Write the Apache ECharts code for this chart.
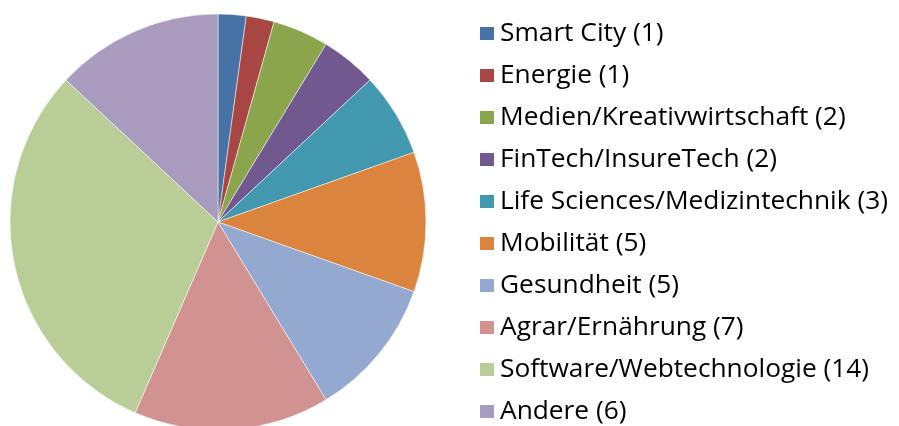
<!DOCTYPE html>
<html>
<head>
<meta charset="utf-8">
<script src="https://cdn.jsdelivr.net/npm/echarts@6/dist/echarts.min.js"></script>
<style>
  html, body { margin: 0; padding: 0; background: #fff; }
  #chart { width: 899px; height: 426px; }
</style>
</head>
<body>
<div id="chart"></div>
<script>
// Kategorien und Anzahl
const categories = [
  'Smart City', 'Energie', 'Medien/Kreativwirtschaft', 'FinTech/InsureTech',
  'Life Sciences/Medizintechnik', 'Mobilität', 'Gesundheit', 'Agrar/Ernährung',
  'Software/Webtechnologie', 'Andere'
]
const counts = [1, 1, 2, 2, 3, 5, 5, 7, 14, 6]
const colors = [
  '#4672A6', '#A84644', '#8AA54B', '#71588F', '#4298AF',
  '#DB843D', '#93A9CF', '#D19392', '#B9CD96', '#A99BBD'
]

const chart = echarts.init(document.getElementById('chart'))
const option = {
  animation: false,
  color: colors,
  legend: {
    orient: 'vertical',
    left: 478,
    top: 20,
    padding: 0,
    itemWidth: 16,
    itemHeight: 15,
    itemGap: 15,
    icon: 'rect',
    data: categories,
    formatter: function (name) {
      return name + ' (' + counts[categories.indexOf(name)] + ')'
    },
    textStyle: {
      fontFamily: 'Open Sans',
      fontSize: 26.3,
      lineHeight: 27,
      color: '#000'
    }
  },
  series: [{
    type: 'pie',
    center: [218, 222],
    radius: 208,
    startAngle: 90,
    clockwise: true,
    label: { show: false },
    labelLine: { show: false },
    itemStyle: { borderColor: '#fff', borderWidth: 0.5 },
    emphasis: { disabled: true },
    data: categories.map(function (c, i) {
      return { name: c, value: counts[i] }
    })
  }]
}
chart.setOption(option)
window.addEventListener('resize', function () {
  chart.resize()
})
</script>
</body>
</html>
